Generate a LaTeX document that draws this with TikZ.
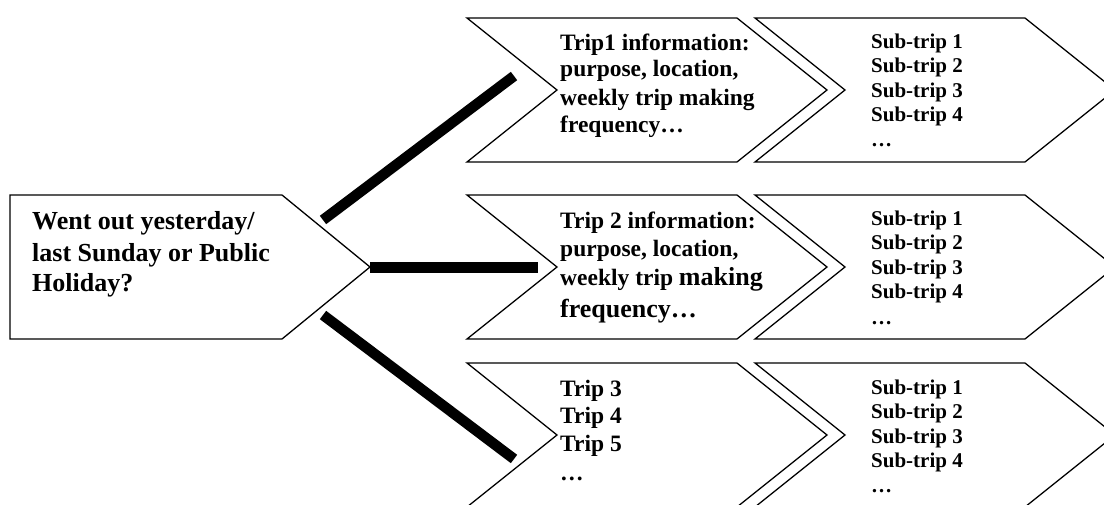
\documentclass[tikz,border=0pt]{standalone}
\usepackage{fontspec}
\setmainfont{Liberation Serif}
\newcommand\mychev[3]{\draw[shapeline] (#1,#2) -- ++(270,0) -- ++(90,72) -- ++(-90,72) -- ++(-270,0) -- ++(90,-72) -- cycle; \coordinate (#3) at (#1+180,#2+72);}
\begin{document}
\begin{tikzpicture}[x=1pt,y=-1pt,
  shapeline/.style={draw=black, line width=1.3pt, line join=miter},
  bar/.style={line width=10.5pt, line cap=butt},
  txt/.style={anchor=base west, inner sep=0pt, font=\bfseries\fontsize{23.5}{27}\selectfont},
  bigtxt/.style={anchor=base west, inner sep=0pt, font=\bfseries\fontsize{26}{31}\selectfont},
  subtxt/.style={anchor=base west, inner sep=0pt, font=\bfseries\fontsize{21}{24}\selectfont}]
\useasboundingbox (0,0) rectangle (1104,505);
\clip (0,0) rectangle (1104,505);
% left pentagon
\draw[shapeline] (10,195) -- (282,195) -- (370,267) -- (282,339) -- (10,339) -- cycle;
\node[bigtxt] (q1) at (32,230) {Went out yesterday/};
\node[bigtxt] (q2) at (32,262) {last Sunday or Public};
\node[bigtxt] (q3) at (32,292) {Holiday?};
% chevrons
\mychev{467}{18}{ta}
\mychev{755}{18}{sa}
\mychev{467}{195}{tb}
\mychev{755}{195}{sb}
\mychev{467}{363}{tc}
\mychev{755}{363}{sc}
% connectors
\coordinate (c1a) at (323,220); \coordinate (c1b) at (514,76);
\coordinate (c2a) at (370,267.5); \coordinate (c2b) at (538,267.5);
\coordinate (c3a) at (323,315); \coordinate (c3b) at (514,459);
\draw[bar] (c1a) -- (c1b);
\draw[bar] (c2a) -- (c2b);
\draw[bar] (c3a) -- (c3b);
% row 1 text
\node[txt] (a1) at (560,51) {Trip1 information:};
\node[txt] (a2) at (560,77) {purpose, location,};
\node[txt] (a3) at (560,106) {weekly trip making};
\node[txt] (a4) at (560,133) {frequency…};
% row 2 text
\node[txt] (b1) at (560,229) {Trip 2 information:};
\node[txt] (b2) at (560,257) {purpose, location,};
\node[txt] (b3) at (560,286) {weekly trip {\fontsize{26}{31}\selectfont making}};
\node[bigtxt] (b4) at (560,317) {frequency…};
% row 3 text
\node[txt] (c1) at (560,396) {Trip 3};
\node[txt] (c2) at (560,423) {Trip 4};
\node[txt] (c3) at (560,451) {Trip 5};
\node[txt] (c4) at (560,480) {…};
% sub-trips
\foreach \r/\dy in {1/0,2/177,3/345}{
  \node[subtxt] (s\r a) at (871,49+\dy) {Sub-trip 1};
  \node[subtxt] (s\r b) at (871,73+\dy) {Sub-trip 2};
  \node[subtxt] (s\r c) at (871,98+\dy) {Sub-trip 3};
  \node[subtxt] (s\r d) at (871,122+\dy) {Sub-trip 4};
  \node[subtxt] (s\r e) at (871,147+\dy) {…};
}
\end{tikzpicture}
\end{document}
